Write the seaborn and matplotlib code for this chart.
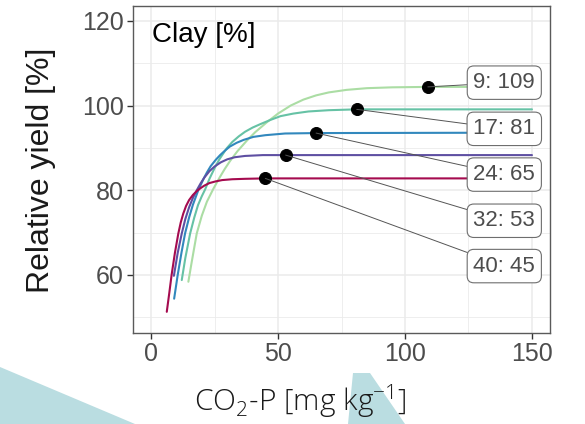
import numpy as np
import pandas as pd
import matplotlib
matplotlib.use('Agg')
import matplotlib.pyplot as plt
from matplotlib.patches import Polygon
from matplotlib.ticker import MultipleLocator
import seaborn as sns

# curves, one per clay content
clay = [9, 17, 24, 32, 40]
colors = ['#ABDDA4', '#66C2A5', '#3288BD', '#5E4FA2', '#A50B4F']

x_9 = [14.7, 16, 18, 20, 22, 24.5, 27, 29, 31.1, 34, 37.7, 41, 45.5, 50, 55, 60, 65, 70, 77, 85, 95, 109, 150]
y_9 = [58.4, 63.0, 69.8, 74.0, 77.3, 80.3, 83.0, 85.0, 86.9, 89.2, 91.7, 93.7, 96.0, 98.1, 100.0, 101.4,
       102.4, 103.1, 103.7, 104.1, 104.3, 104.4, 104.4]
x_17 = [12.1, 13.5, 15.4, 17, 18.5, 20, 21.3, 23, 25, 27, 29.8, 32, 34.5, 37, 40, 43, 47, 51, 56, 62, 70, 81, 150]
y_17 = [58.8, 64.0, 69.8, 73.5, 76.5, 78.6, 80.2, 82.7, 85.2, 87.4, 89.9, 91.4, 92.7, 93.8, 94.8, 95.6,
        96.6, 97.5, 98.1, 98.6, 98.9, 99.1, 99.1]
x_24 = [9.1, 10.5, 12, 13.4, 15, 16.5, 18.6, 20.6, 22, 23.5, 25.5, 27.2, 29, 31, 33.7, 36.5, 40.3, 45, 52.8, 65, 150]
y_24 = [54.4, 60.0, 65.3, 69.8, 73.6, 76.6, 80.0, 82.6, 84.2, 85.7, 87.2, 88.3, 89.3, 90.3, 91.2, 91.9,
        92.6, 93.0, 93.4, 93.5, 93.6]
x_32 = [9.0, 10.5, 12.1, 13.5, 15, 16.5, 18, 19.5, 21, 23, 25, 27.5, 30, 33, 37, 44, 53, 150]
y_32 = [59.8, 65.2, 69.8, 73.2, 76.0, 78.2, 80.0, 81.6, 83.0, 84.5, 85.6, 86.6, 87.3, 87.8, 88.1, 88.3, 88.3, 88.3]
x_40 = [6.2, 7.2, 8.1, 9.4, 10.75, 11.7, 12.7, 13.8, 15, 16.5, 18, 19.5, 21, 23, 25.5, 28, 32, 37, 45, 150]
y_40 = [51.3, 55.8, 60.0, 65.2, 69.8, 72.4, 74.5, 76.3, 77.7, 78.9, 79.8, 80.5, 81.1, 81.7, 82.1, 82.4,
        82.6, 82.7, 82.8, 82.8]

# critical CO2-P values (points) and labels
crit_x = [109, 81, 65, 53, 45]
crit_y = [104.4, 99.1, 93.5, 88.3, 82.8]
labels = ['9: 109', '17: 81', '24: 65', '32: 53', '40: 45']
label_y = [105.4, 94.5, 83.7, 72.8, 62.1]

xs = [x_9, x_17, x_24, x_32, x_40]
ys = [y_9, y_17, y_24, y_32, y_40]
df = pd.concat([pd.DataFrame({'x': a, 'y': b, 'clay': c}) for a, b, c in zip(xs, ys, clay)])
pts = pd.DataFrame({'x': crit_x, 'y': crit_y, 'clay': clay})

sns.set_theme(style='whitegrid')
plt.rcParams['font.family'] = ['Liberation Sans', 'DejaVu Sans']

fig = plt.figure(figsize=(5.85, 4.24), dpi=100)
fig.patch.set_facecolor('white')
# decorative background shapes of the slide
fig.add_artist(Polygon([(0, 1 - 367 / 424), (135 / 585, 0), (0, 0)], closed=True,
                       transform=fig.transFigure, fc='#BADDE1', ec='none', zorder=-10))
fig.add_artist(Polygon([(353 / 585, 1 - 373 / 424), (370 / 585, 1 - 373 / 424), (405 / 585, 0), (348 / 585, 0)],
                       closed=True, transform=fig.transFigure, fc='#BADDE1', ec='none', zorder=-10))

ax = fig.add_axes([133 / 585, 1 - 333 / 424, 417 / 585, 327 / 424])
ax.set_facecolor('white')

pal = dict(zip(clay, colors))
sns.lineplot(data=df, x='x', y='y', hue='clay', palette=pal, sort=False, estimator=None,
             legend=False, lw=1.5, ax=ax, zorder=2)
sns.scatterplot(data=pts, x='x', y='y', color='black', s=75, edgecolor='black',
                legend=False, ax=ax, zorder=4)

for lx, ly, px, py, txt in zip([139.1] * 5, label_y, crit_x, crit_y, labels):
    ax.annotate(txt, xy=(px, py), xytext=(lx, ly), ha='center', va='center',
                fontsize=16, color='#4D4D4D', zorder=5,
                bbox=dict(boxstyle='round,pad=0.28,rounding_size=0.3', fc='white', ec='#6E6E6E', lw=0.8),
                arrowprops=dict(arrowstyle='-', color='#555555', lw=0.7, shrinkA=0, shrinkB=0))

ax.set_xlim(-7.1, 157.1)
ax.set_ylim(46.3, 123.5)
ax.xaxis.set_major_locator(MultipleLocator(50))
ax.xaxis.set_minor_locator(MultipleLocator(25))
ax.yaxis.set_major_locator(MultipleLocator(20))
ax.yaxis.set_minor_locator(MultipleLocator(10))
ax.grid(which='major', color='#EBEBEB', lw=1.1)
ax.grid(which='minor', color='#EBEBEB', lw=0.6)
ax.set_axisbelow(True)
for s in ax.spines.values():
    s.set_color('#5A5A5A')
    s.set_linewidth(1.0)
ax.tick_params(which='major', length=4, width=1, color='#333333', labelsize=18,
               labelcolor='#4D4D4D', pad=2.5, left=True, bottom=True)
ax.tick_params(which='minor', length=0)
ax.set_xlabel('')
ax.set_ylabel('')

ax.text(0.0456, 0.89, 'Clay [%]', transform=ax.transAxes, ha='left', va='baseline',
        fontsize=20, color='black')

fig.text(41 / 585, 1 - 170 / 424, 'Relative yield [%]', rotation=90, ha='center', va='center',
         fontsize=23, color='#1A1A1A')
fig.text(300 / 585, 1 - 412 / 424, r'CO$_\mathregular{2}$-P [mg kg$^\mathregular{-1}$]',
         ha='center', va='baseline', fontsize=21.5, color='#1A1A1A',
         family=['Open Sans', 'DejaVu Sans'], fontweight='light')

fig.savefig('out.png', dpi=100)
